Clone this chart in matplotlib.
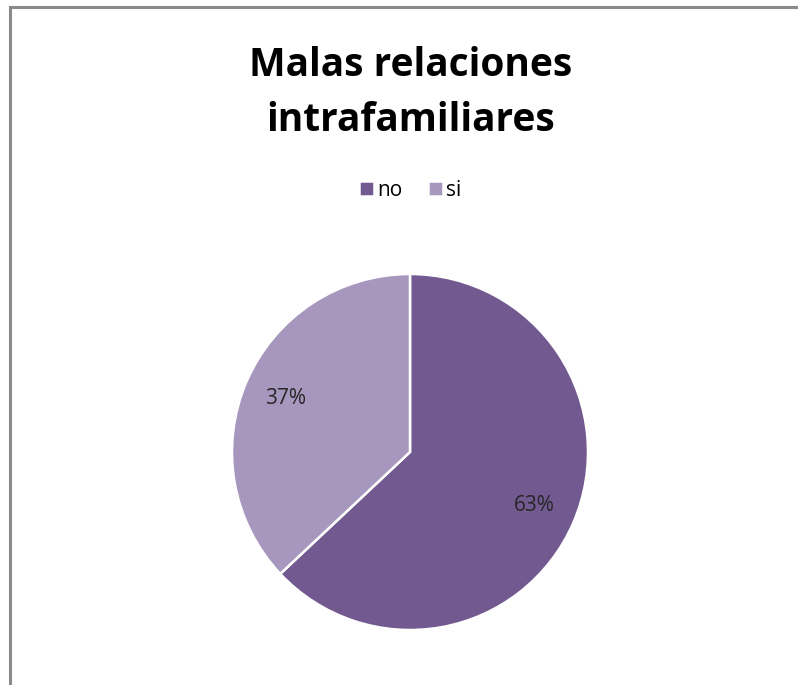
import matplotlib.pyplot as plt
from matplotlib.lines import Line2D

labels = ['no', 'si']
values = [63, 37]
colors = ['#725a90', '#a797be']
title_lines = ['Malas relaciones', 'intrafamiliares']

plt.rcParams['font.family'] = ['Open Sans', 'DejaVu Sans']

fig = plt.figure(figsize=(7.98, 6.85), dpi=100)

# frame (only top and left edges visible in the crop)
fig.add_artist(Line2D([10 / 798, 1], [1 - 7 / 685, 1 - 7 / 685], color='#8a8a8a', lw=2.2))
fig.add_artist(Line2D([10 / 798, 10 / 798], [0, 1 - 7 / 685], color='#8a8a8a', lw=2.2))

ax = fig.add_axes([232 / 798, 55 / 685, 356 / 798, 356 / 685])
wedges, texts, autotexts = ax.pie(values, colors=colors, startangle=90, counterclock=False,
                                  autopct='%d%%', pctdistance=0.76,
                                  wedgeprops=dict(edgecolor='white', linewidth=1.8),
                                  textprops=dict(fontsize=15, color='#262626'))
ax.set_xlim(-1, 1)
ax.set_ylim(-1, 1)
ax.set_aspect('equal')

fig.text(0.514, 1 - 76 / 685, title_lines[0], ha='center', va='baseline', fontsize=28,
         fontweight='bold')
fig.text(0.514, 1 - 131 / 685, title_lines[1], ha='center', va='baseline', fontsize=28,
         fontweight='bold')

leg = fig.legend(wedges, labels, loc='center', bbox_to_anchor=(0.514, 1 - 190 / 685),
                 ncol=2, frameon=False, fontsize=15, handlelength=0.75, handleheight=0.75,
                 handletextpad=0.15, columnspacing=1.2)

fig.savefig('out.png', dpi=100)
